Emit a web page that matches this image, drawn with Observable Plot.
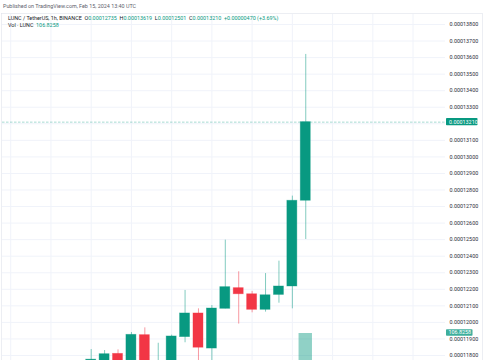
<!DOCTYPE html>
<html>
<head>
<meta charset="utf-8">
<script src="https://cdn.jsdelivr.net/npm/d3@7"></script>
<script src="https://cdn.jsdelivr.net/npm/@observablehq/plot@0.6"></script>
<style>
  html, body { margin: 0; padding: 0; background: #fff; }
  #wrap { position: relative; width: 485px; height: 360px; overflow: hidden; background: #fff; }
  #wrap svg { position: absolute; left: 0; top: 0; }
</style>
</head>
<body>
<div id="wrap"></div>
<script>
// ---- data (LUNC/USDT, 1h candles, BINANCE) ----
const times = ["21:00","22:00","23:00","00:00","01:00","02:00","03:00","04:00","05:00","06:00","07:00","08:00","09:00","10:00","11:00","12:00","13:00"];
const open  = [0.00011770,0.00011760,0.00011810,0.00011770,0.00011923,0.00011720,0.00011760,0.00011911,0.00012054,0.00011842,0.00012082,0.00012207,0.00012170,0.00012076,0.00012166,0.00012217,0.00012735];
const high  = [0.00011836,0.00011830,0.00011834,0.00011939,0.00011967,0.00011874,0.00011923,0.00012193,0.00012082,0.00012102,0.00012497,0.00012306,0.00012187,0.00012295,0.00012370,0.00012763,0.00013619];
const low   = [0.00011740,0.00011740,0.00011720,0.00011750,0.00011720,0.00011700,0.00011740,0.00011877,0.00011750,0.00011750,0.00012082,0.00011990,0.00012058,0.00012062,0.00012116,0.00012082,0.00012501];
const close = [0.00011775,0.00011808,0.00011750,0.00011925,0.00011740,0.00011765,0.00011915,0.00012054,0.00011847,0.00012084,0.00012213,0.00012170,0.00012076,0.00012164,0.00012217,0.00012735,0.00013210];
const volume = [null,null,null,null,null,null,null,null,null,null,null,null,null,null,null,null,106.8258];
const priceTicks = [0.000118,0.000119,0.000120,0.000121,0.000122,0.000123,0.000124,0.000125,0.000126,0.000127,0.000128,0.000129,0.000130,0.000131,0.000132,0.000133,0.000134,0.000135,0.000136,0.000137,0.000138];
// 0.00013200 label is hidden behind the last-price label in the reference
const labelTicks = [0.000118,0.000119,0.000120,0.000121,0.000122,0.000123,0.000124,0.000125,0.000126,0.000127,0.000128,0.000129,0.000130,0.000131,0.000133,0.000134,0.000135,0.000136,0.000137,0.000138];
const timeGrid = [-6,-3,0,3,6,9,12,15,18,21,24];

const UP = "#089981", DOWN = "#F23645";
const candles = times.map((t, i) => ({i, t, o: open[i], h: high[i], l: low[i], c: close[i], v: volume[i]}));
const col = d => d.c >= d.o ? UP : DOWN;
const xDomain = [-6.614, 26.42];
const FONT = "Roboto, 'Liberation Sans', sans-serif";

const main = Plot.plot({
  width: 485, height: 360,
  marginTop: 14, marginBottom: 0, marginLeft: 2, marginRight: 40,
  style: {background: "transparent", fontFamily: FONT},
  x: {type: "linear", domain: xDomain, axis: null},
  y: {domain: [0.000117698, 0.000138604], axis: null},
  marks: [
    Plot.gridX(timeGrid, {stroke: "#f0f3fa", strokeOpacity: 1}),
    Plot.gridY(priceTicks, {stroke: "#f0f3fa", strokeOpacity: 1}),
    Plot.axisY(labelTicks, {anchor: "right", tickSize: 0, tickPadding: 4, tickFormat: d => d.toFixed(8), fontSize: 5.4, fill: "#2a2e39", textAnchor: "start"}),
    Plot.ruleY([close[close.length - 1]], {stroke: UP, strokeOpacity: 0.45, strokeDasharray: "2.5,1.5", strokeWidth: 0.8}),
    Plot.ruleX(candles, {x: "i", y1: "l", y2: "h", stroke: col, strokeOpacity: 0.5, strokeWidth: 1, clip: true}),
    Plot.rect(candles, {x1: d => d.i - 0.373, x2: d => d.i + 0.373, y1: "o", y2: "c", fill: col, stroke: col, strokeOpacity: 0.45, strokeWidth: 0.8, clip: true})
  ]
});

const vol = Plot.plot({
  width: 485, height: 400,
  marginTop: 333, marginBottom: 0, marginLeft: 2, marginRight: 40,
  style: {background: "transparent"},
  x: {type: "linear", domain: xDomain, axis: null},
  y: {domain: [0, 106.8258], axis: null},
  marks: [
    Plot.rect(candles.filter(d => d.v != null), {x1: d => d.i - 0.5, x2: d => d.i + 0.5, y1: 0, y2: "v", fill: d => d.c >= d.o ? UP : DOWN, fillOpacity: 0.45})
  ]
});

const wrap = document.getElementById("wrap");
wrap.appendChild(main);
wrap.appendChild(vol);

const svg = d3.select(main);
// pane frame
svg.insert("rect", ":first-child").attr("x", 1.5).attr("y", 13.5).attr("width", 481).attr("height", 400)
  .attr("fill", "none").attr("stroke", "#e0e3eb").attr("stroke-width", 0.6);

const txt = (sel, x, y) => sel.append("text").attr("x", x).attr("y", y).attr("font-size", 5.4)
  .attr("font-family", FONT).attr("text-anchor", "start").style("white-space", "pre");

// header texts
txt(svg, 3, 8).attr("fill", "#5d606b").text("Published on TradingView.com, Feb 15, 2024 13:40 UTC");

const leg = txt(svg, 8, 19.5);
const parts = [
  ["LUNC / TetherUS, 1h, BINANCE  ", "#131722"],
  ["O", "#131722"], ["0.00012735  ", UP],
  ["H", "#131722"], ["0.00013619  ", UP],
  ["L", "#131722"], ["0.00012501  ", UP],
  ["C", "#131722"], ["0.00013210  ", UP],
  ["+0.00000470 (+3.69%)", UP]
];
parts.forEach(([s, c]) => leg.append("tspan").attr("fill", c).text(s));

const vleg = txt(svg, 8, 26.5);
vleg.append("tspan").attr("fill", "#131722").text("Vol · LUNC  ");
vleg.append("tspan").attr("fill", UP).text("106.8258");

// last price label
const yS = main.scale("y");
const yc = yS.apply(close[close.length - 1]);
svg.append("rect").attr("x", 446).attr("y", yc - 3.6).attr("width", 31.5).attr("height", 7.2).attr("fill", UP).attr("rx", 0.8);
txt(svg, 449, yc).attr("dy", "0.35em").attr("fill", "#fff").text(close[close.length - 1].toFixed(8));

// volume label (drawn in the volume svg so it sits on top)
const vsvg = d3.select(vol);
const yv = vol.scale("y").apply(volume[volume.length - 1]) - 0.5;
vsvg.append("rect").attr("x", 446).attr("y", yv - 3.3).attr("width", 26.5).attr("height", 6.6).attr("fill", "#3dae9c").attr("rx", 0.8);
txt(vsvg, 448.5, yv).attr("dy", "0.35em").attr("fill", "#fff").text(volume[volume.length - 1].toFixed(4));
</script>
</body>
</html>
